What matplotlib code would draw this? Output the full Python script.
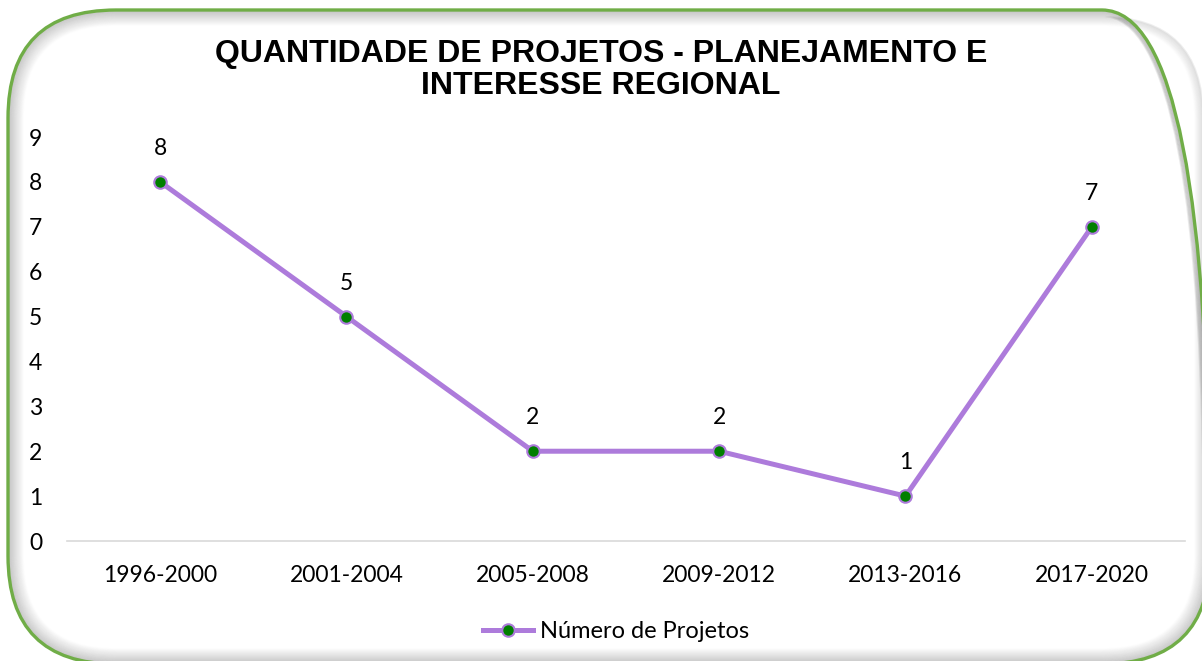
import matplotlib.pyplot as plt
from matplotlib.patches import FancyBboxPatch
from matplotlib.lines import Line2D

periodos = ['1996-2000', '2001-2004', '2005-2008', '2009-2012', '2013-2016', '2017-2020']
projetos = [8, 5, 2, 2, 1, 7]

W, H = 1202, 661
roxo = '#AD7BDB'
verde = '#007F00'
fonte = ['Lato', 'DejaVu Sans']

fig = plt.figure(figsize=(W / 100, H / 100), dpi=100)

# fundo: cartao arredondado com borda verde e sombra interna (coordenadas em pixels)
bg = fig.add_axes([0, 0, 1, 1])
bg.set_xlim(0, W)
bg.set_ylim(0, H)
bg.axis('off')
left, top, right, bottom, r = 8, 10, 1210, 664, 108
for i in range(1, 16):
    bg.add_patch(FancyBboxPatch((left + i, H - bottom + i), right - left - 2 * i, bottom - top - 2 * i,
                                boxstyle=f'round,pad=0,rounding_size={r - i}',
                                fill=False, ec='black', lw=1.5, alpha=0.12 * (1 - i / 16)))
bg.add_patch(FancyBboxPatch((left, H - bottom), right - left, bottom - top,
                            boxstyle=f'round,pad=0,rounding_size={r}',
                            fill=False, ec='#70AD47', lw=2.4))

ax = fig.add_axes([67 / W, 1 - 541 / H, (1185 - 67) / W, (541 - 137) / H])
ax.patch.set_alpha(0)
x = list(range(len(periodos)))
ax.plot(x, projetos, color=roxo, lw=3.6, marker='o', ms=9,
        mfc=verde, mec=roxo, mew=1.5, zorder=3)
for xi, v in zip(x, projetos):
    ax.annotate(str(v), (xi, v), xytext=(0, 24), textcoords='offset points',
                ha='center', va='center', fontsize=16.5, family=fonte)

ax.set_xlim(-0.5, len(periodos) - 0.5)
ax.set_ylim(0, 9)
ax.set_yticks(range(10))
ax.set_xticks(x)
ax.set_xticklabels(periodos)
for s in ['left', 'right', 'top']:
    ax.spines[s].set_visible(False)
ax.spines['bottom'].set_color('#D9D9D9')
ax.spines['bottom'].set_linewidth(1.2)
ax.tick_params(axis='y', length=0, pad=18, labelsize=16.5)
ax.tick_params(axis='x', length=0, pad=17, labelsize=16.5)
for lb in ax.get_xticklabels() + ax.get_yticklabels():
    lb.set_family(fonte)

fig.text(0.5, 1 - 70 / H, 'QUANTIDADE DE PROJETOS - PLANEJAMENTO E\nINTERESSE REGIONAL',
         ha='center', va='center', fontsize=23, fontweight='bold',
         family=['Liberation Sans', 'DejaVu Sans'], linespacing=1.1)

handle = Line2D([], [], color=roxo, lw=3.6, marker='o', ms=9, mfc=verde, mec=roxo, mew=1.5)
fig.legend([handle], ['Número de Projetos'], loc='center',
           bbox_to_anchor=(616 / W, 1 - 632 / H), frameon=False,
           prop={'family': fonte, 'size': 17}, handlelength=2.1, handletextpad=0.3)

fig.savefig('out.png', dpi=100)
